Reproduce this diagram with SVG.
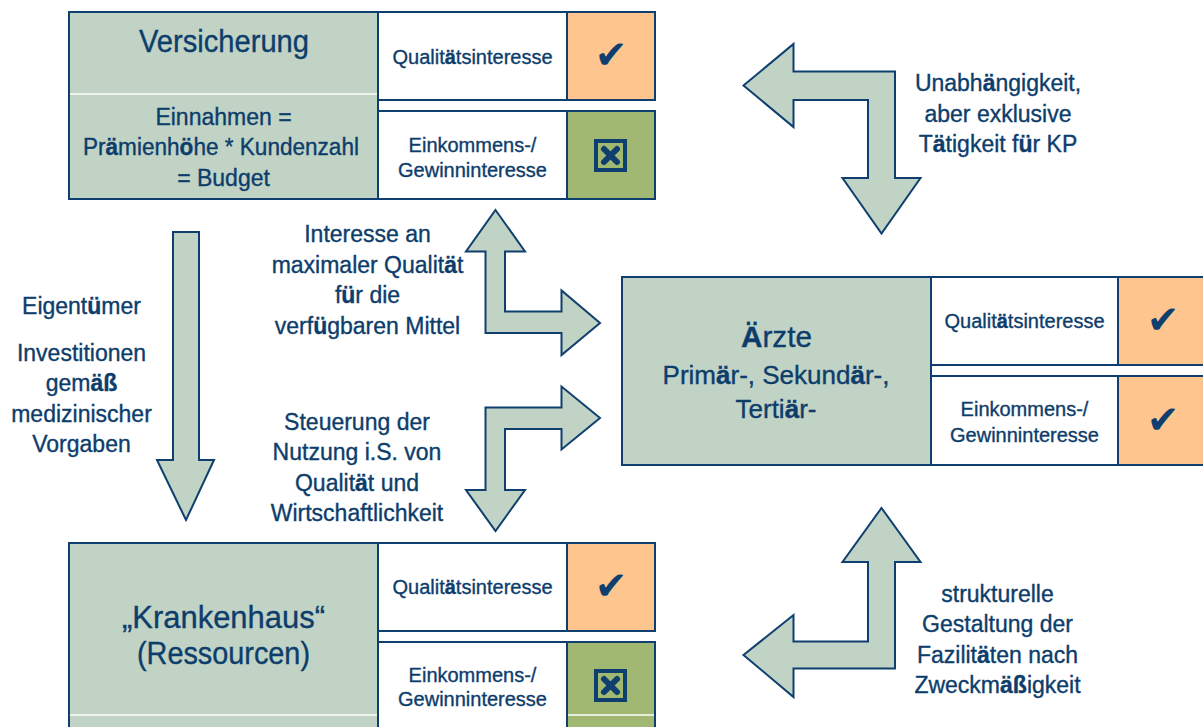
<svg xmlns="http://www.w3.org/2000/svg" width="1203" height="727" viewBox="0 0 1203 727">
  <defs>
    <style>
      .panel { fill: #C0D3C5; stroke: #0E3F6E; stroke-width: 2; }
      .cell { fill: #FFFFFF; stroke: #0E3F6E; stroke-width: 2; }
      .ok { fill: #FEC68E; stroke: #0E3F6E; stroke-width: 2; }
      .no { fill: #A1B872; stroke: #0E3F6E; stroke-width: 2; }
      .sep { stroke: #FFFFFF; stroke-width: 1.5; }
      .arrow { fill: #C0D3C5; stroke: #0E3F6E; stroke-width: 2; stroke-linejoin: miter; }
      text { font-family: "Liberation Sans", Arial, sans-serif; fill: #0D3D6B; stroke: #0D3D6B; stroke-width: 0.35; text-anchor: middle; }
      .t31 { font-size: 31px; }
      .t30 { font-size: 30px; }
      .t26 { font-size: 26px; }
      .t23 { font-size: 23px; }
      .t20 { font-size: 20px; }
      .b { font-weight: bold; }
      .check { font-family: "DejaVu Sans", sans-serif; font-size: 39px; fill: #0E3F6E; stroke: none; }
      .xbox { fill: none; stroke: #0E3F6E; stroke-width: 4; }
      .xmark { stroke: #0E3F6E; stroke-width: 6; stroke-linecap: round; }
    </style>
  </defs>

  <!-- Versicherung -->
  <g id="versicherung">
    <rect class="panel" x="69" y="12" width="309" height="187"/>
    <line class="sep" x1="70" y1="94" x2="377" y2="94"/>
    <rect class="cell" x="378" y="12" width="189" height="88"/>
    <rect class="ok" x="567" y="12" width="88" height="88"/>
    <rect class="cell" x="378" y="111" width="189" height="88"/>
    <rect class="no" x="567" y="111" width="88" height="88"/>
    <text class="t31" x="224" y="52" textLength="170" lengthAdjust="spacingAndGlyphs">Versicherung</text>
    <text class="t23" x="223.5" y="125">Einnahmen =</text>
    <text class="t23" x="221" y="155" textLength="276" lengthAdjust="spacingAndGlyphs">Pr<tspan class="b">ä</tspan>mienh<tspan class="b">ö</tspan>he * Kundenzahl</text>
    <text class="t23" x="223.5" y="186">= Budget</text>
    <text class="t20" x="472.5" y="64">Qualit<tspan class="b">ä</tspan>tsinteresse</text>
    <text class="t20" x="472.5" y="152">Einkommens-/</text>
    <text class="t20" x="472.5" y="177">Gewinninteresse</text>
    <text class="check" x="611" y="68">✔</text>
    <rect class="xbox" x="596" y="141" width="29" height="29"/>
    <line class="xmark" x1="604" y1="149" x2="617" y2="162"/>
    <line class="xmark" x1="617" y1="149" x2="604" y2="162"/>
  </g>

  <!-- Ärzte -->
  <g id="aerzte">
    <rect class="panel" x="622" y="277" width="309" height="188"/>
    <rect class="cell" x="931" y="277" width="187" height="88"/>
    <rect class="ok" x="1118" y="277" width="88" height="88"/>
    <rect class="cell" x="931" y="376" width="187" height="89"/>
    <rect class="ok" x="1118" y="376" width="88" height="89"/>
    <text class="t30" x="776.5" y="347" textLength="71" lengthAdjust="spacingAndGlyphs"><tspan class="b">Ä</tspan>rzte</text>
    <text class="t26" x="776" y="384">Prim<tspan class="b">ä</tspan>r-, Sekund<tspan class="b">ä</tspan>r-,</text>
    <text class="t26" x="776" y="418">Terti<tspan class="b">ä</tspan>r-</text>
    <text class="t20" x="1024.5" y="328">Qualit<tspan class="b">ä</tspan>tsinteresse</text>
    <text class="t20" x="1024.5" y="416">Einkommens-/</text>
    <text class="t20" x="1024.5" y="442">Gewinninteresse</text>
    <text class="check" x="1163" y="333">✔</text>
    <text class="check" x="1163" y="433">✔</text>
  </g>

  <!-- Krankenhaus -->
  <g id="krankenhaus">
    <rect class="panel" x="69" y="543" width="309" height="190"/>
    <line class="sep" x1="70" y1="715" x2="377" y2="715"/>
    <rect class="cell" x="378" y="543" width="189" height="88"/>
    <rect class="ok" x="567" y="543" width="88" height="88"/>
    <rect class="cell" x="378" y="642" width="189" height="91"/>
    <rect class="no" x="567" y="642" width="88" height="91"/>
    <line class="sep" x1="568" y1="715" x2="654" y2="715"/>
    <text class="t31" x="223.5" y="628" textLength="203" lengthAdjust="spacingAndGlyphs">„Krankenhaus“</text>
    <text class="t31" x="223.5" y="664" textLength="173" lengthAdjust="spacingAndGlyphs">(Ressourcen)</text>
    <text class="t20" x="472.5" y="594">Qualit<tspan class="b">ä</tspan>tsinteresse</text>
    <text class="t20" x="472.5" y="682">Einkommens-/</text>
    <text class="t20" x="472.5" y="706">Gewinninteresse</text>
    <text class="check" x="611" y="599">✔</text>
    <rect class="xbox" x="596" y="671" width="29" height="29"/>
    <line class="xmark" x1="604" y1="679" x2="617" y2="692"/>
    <line class="xmark" x1="617" y1="679" x2="604" y2="692"/>
  </g>

  <!-- connectors -->
  <g id="connectors">
    <polygon class="arrow" points="173,232 199,232 199,460 214,460 186,520 157,460 173,460"/>
    <polygon class="arrow" points="495.5,210 525,251.5 505,251.5 505,311.5 561.5,311.5 561.5,290.5 600,323 561.5,355 561.5,333 485.5,333 485.5,251.5 466,251.5"/>
    <polygon class="arrow" points="485.5,407.5 561.5,407.5 561.5,386.5 600,418 561.5,449.5 561.5,429 505,429 505,490 525,490 495.5,531 466,490 485.5,490"/>
    <polygon class="arrow" points="743.5,85.5 793.5,44 793.5,71.5 895,71.5 895,178 920.5,178 881.5,233.5 842.5,178 868,178 868,100 793.5,100 793.5,127"/>
    <polygon class="arrow" points="881.5,508 920.5,562 895,562 895,668.5 793.5,668.5 793.5,697 743.5,655 793.5,615 793.5,641.5 868,641.5 868,562 842.5,562"/>
  </g>

  <!-- connector labels -->
  <g id="labels">
    <text class="t23" x="81.5" y="314">Eigent<tspan class="b">ü</tspan>mer</text>
    <text class="t23" x="81.5" y="361">Investitionen</text>
    <text class="t23" x="81.5" y="391">gem<tspan class="b">äß</tspan></text>
    <text class="t23" x="81.5" y="422">medizinischer</text>
    <text class="t23" x="81.5" y="452">Vorgaben</text>

    <text class="t23" x="367.5" y="242">Interesse an</text>
    <text class="t23" x="367.5" y="273">maximaler Qualit<tspan class="b">ä</tspan>t</text>
    <text class="t23" x="367.5" y="303">f<tspan class="b">ü</tspan>r die</text>
    <text class="t23" x="367.5" y="334">verf<tspan class="b">ü</tspan>gbaren Mittel</text>

    <text class="t23" x="357" y="430">Steuerung der</text>
    <text class="t23" x="357" y="460">Nutzung i.S. von</text>
    <text class="t23" x="357" y="491">Qualit<tspan class="b">ä</tspan>t und</text>
    <text class="t23" x="357" y="521">Wirtschaftlichkeit</text>

    <text class="t23" x="998" y="91">Unabh<tspan class="b">ä</tspan>ngigkeit,</text>
    <text class="t23" x="998" y="122">aber exklusive</text>
    <text class="t23" x="998" y="152">T<tspan class="b">ä</tspan>tigkeit f<tspan class="b">ü</tspan>r KP</text>

    <text class="t23" x="997.5" y="602">strukturelle</text>
    <text class="t23" x="997.5" y="632">Gestaltung der</text>
    <text class="t23" x="997.5" y="663">Fazilit<tspan class="b">ä</tspan>ten nach</text>
    <text class="t23" x="997.5" y="693">Zweckm<tspan class="b">äß</tspan>igkeit</text>
  </g>
</svg>
